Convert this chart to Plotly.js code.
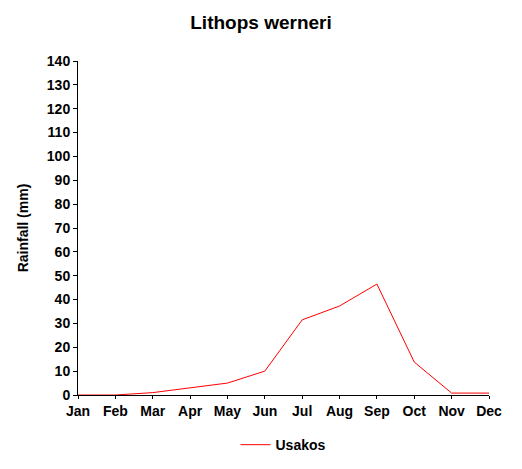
<!DOCTYPE html>
<html>
<head>
<meta charset="utf-8">
<script src="https://cdn.plot.ly/plotly-3.0.1.min.js"></script>
<style>
  body { margin: 0; background: #fff; }
  #graph { width: 522px; height: 469px; }
</style>
</head>
<body>
<div id="graph"></div>
<script>
var months = ['Jan', 'Feb', 'Mar', 'Apr', 'May', 'Jun', 'Jul', 'Aug', 'Sep', 'Oct', 'Nov', 'Dec']
var usakos = [0, 0, 1, 3, 5, 10, 31.5, 37.3, 46.5, 13.8, 0.8, 0.8]
var yTicks = [0, 10, 20, 30, 40, 50, 60, 70, 80, 90, 100, 110, 120, 130, 140]

var boldFont = {family: 'Liberation Sans, Arial, sans-serif', size: 14, color: '#000', weight: 'bold'}

var trace = {
    x: months,
    y: usakos,
    name: 'Usakos',
    mode: 'lines',
    type: 'scatter',
    line: {color: '#ff0000', width: 1},
    cliponaxis: false
}

var layout = {
    width: 522,
    height: 469,
    margin: {l: 78, r: 33, t: 61, b: 74},
    paper_bgcolor: '#fff',
    plot_bgcolor: '#fff',
    font: boldFont,
    title: {
        text: 'Lithops werneri',
        font: {family: 'Liberation Sans, Arial, sans-serif', size: 19, color: '#000', weight: 'bold'},
        x: 0.5, xref: 'container', y: 0.953, yanchor: 'middle'
    },
    xaxis: {
        type: 'category',
        range: [0, 11],
        showgrid: false,
        zeroline: false,
        showline: true,
        linecolor: '#000',
        linewidth: 1,
        ticks: 'outside',
        ticklen: 3,
        tickcolor: '#000',
        tickfont: boldFont,
        layer: 'below traces'
    },
    yaxis: {
        range: [0, 140],
        tickvals: yTicks,
        showgrid: false,
        zeroline: false,
        showline: true,
        linecolor: '#000',
        linewidth: 1,
        ticks: 'outside',
        ticklen: 4,
        tickcolor: '#000',
        tickfont: boldFont,
        layer: 'below traces',
        title: {text: 'Rainfall (mm)', font: boldFont, standoff: 14}
    },
    showlegend: true,
    legend: {
        orientation: 'h',
        x: 0.5, xanchor: 'center',
        yref: 'container',
        y: 0.051, yanchor: 'middle',
        font: boldFont
    }
}

Plotly.newPlot('graph', [trace], layout, {displayModeBar: false, staticPlot: true})
</script>
</body>
</html>
